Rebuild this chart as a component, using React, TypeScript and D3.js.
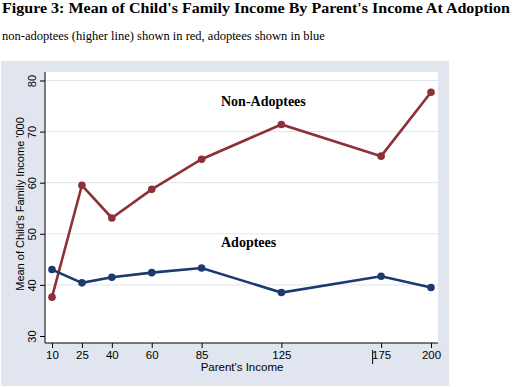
import React, { useEffect, useRef } from "react";
import * as d3 from "d3";

const incomes = [10, 25, 40, 60, 85, 125, 175, 200];
const nonAdoptees = [37.6, 59.5, 53.1, 58.7, 64.6, 71.4, 65.2, 77.7];
const adoptees = [43.0, 40.4, 41.5, 42.4, 43.3, 38.5, 41.7, 39.5];
const yTicks = [30, 40, 50, 60, 70, 80];

const W = 513;
const H = 387;

const App = () => {
  const ref = useRef<SVGSVGElement>(null);

  useEffect(() => {
    const svg = d3.select(ref.current);
    svg.selectAll("*").remove();

    const x = d3.scaleLinear().domain([10, 200]).range([52, 431]);
    const y = d3.scaleLinear().domain([30, 80]).range([336, 80.5]);

    // title + note
    svg.append("text")
      .attr("x", 2).attr("y", 13)
      .attr("font-family", "Liberation Serif, serif")
      .attr("font-weight", "bold").attr("font-size", 15)
      .attr("textLength", 508).attr("lengthAdjust", "spacingAndGlyphs")
      .text("Figure 3: Mean of Child's Family Income By Parent's Income At Adoption");
    svg.append("text")
      .attr("x", 2).attr("y", 40)
      .attr("font-family", "Liberation Serif, serif")
      .attr("font-size", 12.5)
      .text("non-adoptees (higher line) shown in red, adoptees shown in blue");

    // graph region
    svg.append("rect").attr("x", 1).attr("y", 61).attr("width", 448).attr("height", 325)
      .attr("fill", "#e0e5ef");
    svg.append("rect").attr("x", 45).attr("y", 72).attr("width", 393).attr("height", 271)
      .attr("fill", "#fff");

    // grid
    svg.append("g").selectAll("line")
      .data(yTicks.filter(t => t > 30))
      .join("line")
      .attr("x1", 45).attr("x2", 438)
      .attr("y1", d => y(d)).attr("y2", d => y(d))
      .attr("stroke", "#e1e4eb").attr("stroke-width", 1);

    const yAxis = svg.append("g").attr("transform", "translate(45,0)")
      .call(d3.axisLeft(y).tickValues(yTicks).tickSize(5).tickSizeOuter(0));
    yAxis.select(".domain").attr("d", "M0,72V343").attr("stroke", "#000");
    yAxis.selectAll(".tick text")
      .attr("font-family", "Liberation Sans, Arial, sans-serif").attr("font-size", 11)
      .attr("fill", "#000")
      .attr("text-anchor", "middle")
      .attr("transform", "rotate(-90)")
      .attr("x", 0).attr("y", -9).attr("dy", 0);

    const xAxis = svg.append("g").attr("transform", "translate(0,343)")
      .call(d3.axisBottom(x).tickValues(incomes).tickSize(5).tickSizeOuter(0)
        .tickFormat(d => String(d)));
    xAxis.select(".domain").attr("d", "M45,0H438").attr("stroke", "#000");
    xAxis.selectAll(".tick text")
      .attr("font-family", "Liberation Sans, Arial, sans-serif").attr("font-size", 11.5)
      .attr("fill", "#000").attr("y", 8);

    // stray mark near 175
    svg.append("line").attr("x1", x(175) - 8.5).attr("x2", x(175) - 8.5)
      .attr("y1", 350).attr("y2", 364).attr("stroke", "#000").attr("stroke-width", 1);

    svg.append("text")
      .attr("x", 242).attr("y", 371).attr("text-anchor", "middle")
      .attr("font-family", "Liberation Sans, Arial, sans-serif").attr("font-size", 11.5)
      .text("Parent's Income");
    svg.append("text")
      .attr("transform", `translate(24,204) rotate(-90)`)
      .attr("text-anchor", "middle")
      .attr("font-family", "Liberation Sans, Arial, sans-serif").attr("font-size", 11)
      .text("Mean of Child's Family Income '000");

    const series = [
      { vals: nonAdoptees, color: "#8e3038" },
      { vals: adoptees, color: "#1d3a6e" },
    ];
    const line = d3.line<number>().x((_, i) => x(incomes[i])).y(d => y(d));
    series.forEach(s => {
      svg.append("path").attr("d", line(s.vals)).attr("fill", "none")
        .attr("stroke", s.color).attr("stroke-width", 2.6);
      svg.append("g").selectAll("circle").data(s.vals).join("circle")
        .attr("cx", (_, i) => x(incomes[i])).attr("cy", d => y(d)).attr("r", 3.8)
        .attr("fill", s.color);
    });

    svg.append("text").attr("x", 221).attr("y", 106)
      .attr("font-family", "Liberation Serif, serif").attr("font-weight", "bold")
      .attr("font-size", 14).text("Non-Adoptees");
    svg.append("text").attr("x", 221).attr("y", 247)
      .attr("font-family", "Liberation Serif, serif").attr("font-weight", "bold")
      .attr("font-size", 14).text("Adoptees");
  }, []);

  return (
    <svg ref={ref} width={W} height={H}
      style={{ position: "absolute", left: 0, top: 0, background: "#fff" }} />
  );
};

export default App;
